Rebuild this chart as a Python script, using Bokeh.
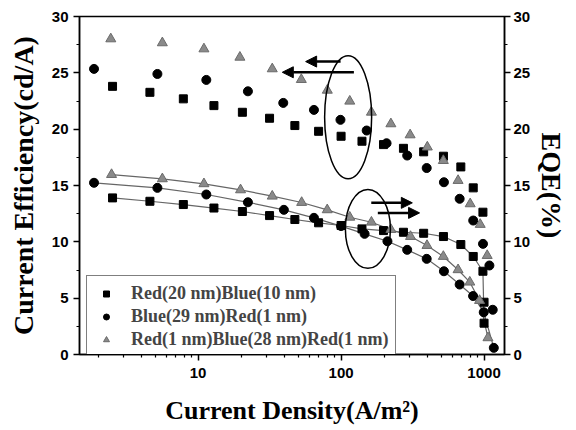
from bokeh.plotting import figure
from bokeh.models import (Range1d, LinearAxis, FixedTicker, SingleIntervalTicker,
                          PrintfTickFormatter, Legend, LegendItem, Arrow, NormalHead)
from bokeh.embed import file_html
from bokeh.resources import INLINE

# ---------------- data ----------------
# Red(20 nm)Blue(10 nm)  (squares)
j_sq = [2.52, 4.60, 7.88, 12.9, 20.4, 31.6, 47.5, 69.6, 100, 140, 198, 273, 378, 520, 688, 840, 982, 1000]
ce_sq = [23.8, 23.27, 22.69, 22.09, 21.5, 20.97, 20.32, 19.81, 19.37, 18.93, 18.63, 18.3, 17.99, 17.6, 16.65, 14.79, 12.63, 4.64]
eqe_sq = [13.9, 13.6, 13.31, 13.0, 12.69, 12.33, 11.98, 11.69, 11.45, 11.15, 11.0, 10.85, 10.76, 10.47, 9.76, 8.7, 7.39, 2.78]

# Blue(29 nm)Red(1 nm)  (circles)
j_ci_ce = [1.87, 5.19, 11.41, 22.3, 39.4, 64.6, 99, 151, 208, 290, 397, 524, 675, 840, 983, 1090, 1150]
ce_ci = [25.35, 24.9, 24.37, 23.36, 22.33, 21.71, 20.83, 19.88, 18.75, 17.66, 16.55, 15.29, 13.82, 11.89, 9.82, 7.9, 3.97]
j_ci_eqe = [1.87, 5.19, 11.41, 22.3, 39.8, 64.6, 100, 146, 211, 290, 397, 524, 675, 838, 995, 1170]
eqe_ci = [15.24, 14.79, 14.2, 13.51, 12.84, 12.13, 11.4, 10.71, 10.05, 9.29, 8.49, 7.39, 6.21, 5.19, 3.75, 0.59]

# Red(1 nm)Blue(28 nm)Red(1 nm)  (triangles)
j_tr_ce = [2.45, 5.62, 10.98, 19.6, 33.0, 52.7, 80.1, 115, 163, 223, 304, 401, 519, 658, 800, 940, 1052]
ce_tr = [28.01, 27.66, 27.12, 26.38, 25.35, 24.4, 23.45, 22.48, 21.5, 20.47, 19.49, 18.41, 17.21, 15.44, 13.37, 11.54, 8.78]
j_tr_eqe = [2.48, 5.62, 10.98, 19.8, 33, 53, 80, 115, 163, 223, 306, 399, 519, 658, 795, 930, 1065]
eqe_tr = [15.97, 15.59, 15.15, 14.61, 14.05, 13.49, 12.84, 12.18, 11.74, 11.09, 10.47, 9.67, 8.7, 7.52, 6.42, 4.79, 1.48]

labels = ["Red(20 nm)Blue(10 nm)", "Blue(29 nm)Red(1 nm)", "Red(1 nm)Blue(28 nm)Red(1 nm)"]
x_ticks = [10, 100, 1000]

# annotation positions (data space)
ell_upper = (112, 21.06)
ell_lower = (154, 11.15)
arrows_left = [(99.2, 56.5, 26.0), (122.9, 38.8, 25.05)]
arrows_right = [(162.6, 315, 13.46), (180.7, 354, 12.57)]

SERIF = "Liberation Serif"
SANS = "Liberation Sans"
TRI_FILL = "#8a8a8a"
TRI_LINE = "#6a6a6a"
LINE_C = "#666666"

p = figure(width=576, height=430, x_axis_type="log",
           x_range=Range1d(1.48, 1390), y_range=Range1d(0, 30),
           output_backend="svg", toolbar_location=None,
           min_border_left=79, min_border_right=72, min_border_top=16, min_border_bottom=76)
p.extra_y_ranges = {"eqe": Range1d(0, 30)}
p.xgrid.visible = False
p.ygrid.visible = False
p.outline_line_color = "black"
p.outline_line_width = 1.5
p.background_fill_color = "white"
p.border_fill_color = "white"

minor_x = [m * d for d in (1, 10, 100) for m in range(2, 10)]
p.xaxis.ticker = FixedTicker(ticks=x_ticks, minor_ticks=minor_x)
p.xaxis.formatter = PrintfTickFormatter(format="%d")
p.xaxis.axis_label = "Current Density(A/m\u00b2)"

p.yaxis.ticker = SingleIntervalTicker(interval=5, num_minor_ticks=2)
p.yaxis.axis_label = "Current Efficiency(cd/A)"

raxis = LinearAxis(y_range_name="eqe", axis_label="EQE(%)",
                   ticker=SingleIntervalTicker(interval=5, num_minor_ticks=2))
p.add_layout(raxis, "right")

for ax in [p.xaxis[0], p.yaxis[0], raxis]:
    ax.axis_line_width = 1.5
    ax.axis_line_color = "black"
    ax.major_tick_line_width = 1.5
    ax.minor_tick_line_width = 1.2
    ax.major_tick_out = 6
    ax.major_tick_in = 0
    ax.minor_tick_out = 3
    ax.minor_tick_in = 0
    ax.major_label_text_font = SANS
    ax.major_label_text_font_style = "bold"
    ax.major_label_text_font_size = "15px"
    ax.major_label_text_color = "black"
    ax.axis_label_text_font = SERIF
    ax.axis_label_text_font_style = "bold"
    ax.axis_label_text_color = "black"

p.xaxis.axis_label_text_font_size = "26px"
p.xaxis.major_label_standoff = 7
p.xaxis.axis_label_standoff = 15
p.yaxis.axis_label_text_font_size = "28px"
p.yaxis.axis_label_standoff = 10
raxis.axis_label_text_font_size = "28px"
raxis.major_label_standoff = 3
raxis.axis_label_standoff = 3

# fitted guide lines through EQE series
p.line(j_sq, eqe_sq, line_color=LINE_C, line_width=1.2, y_range_name="eqe")
p.line(j_ci_eqe, eqe_ci, line_color=LINE_C, line_width=1.2, y_range_name="eqe")
p.line(j_tr_eqe, eqe_tr, line_color=LINE_C, line_width=1.2, y_range_name="eqe")

# current efficiency (left axis)
p.scatter(j_sq, ce_sq, marker="square", size=8, fill_color="black", line_color="black")
p.scatter(j_ci_ce, ce_ci, marker="circle", size=9, fill_color="black", line_color="black")
p.scatter(j_tr_ce, ce_tr, marker="triangle", size=10, fill_color=TRI_FILL, line_color=TRI_LINE)

# EQE (right axis)
r_sq = p.scatter(j_sq, eqe_sq, marker="square", size=8, fill_color="black", line_color="black", y_range_name="eqe")
r_ci = p.scatter(j_ci_eqe, eqe_ci, marker="circle", size=9, fill_color="black", line_color="black", y_range_name="eqe")
r_tr = p.scatter(j_tr_eqe, eqe_tr, marker="triangle", size=10, fill_color=TRI_FILL, line_color=TRI_LINE, y_range_name="eqe")

# ellipses
p.ellipse(x=[ell_upper[0]], y=[ell_upper[1]], width=47, height=123,
          width_units="screen", height_units="screen",
          fill_color=None, line_color="black", line_width=1.5)
p.ellipse(x=[ell_lower[0]], y=[ell_lower[1]], width=45, height=79,
          width_units="screen", height_units="screen",
          fill_color=None, line_color="black", line_width=1.5)

# arrows
for xs, xe, yy in arrows_left + arrows_right:
    p.add_layout(Arrow(end=NormalHead(size=11, fill_color="black", line_color="black"),
                       x_start=xs, y_start=yy, x_end=xe, y_end=yy,
                       line_width=2.5, line_color="black"))

legend = Legend(items=[LegendItem(label=labels[0], renderers=[r_sq]),
                       LegendItem(label=labels[1], renderers=[r_ci]),
                       LegendItem(label=labels[2], renderers=[r_tr])],
                location=(7, -4))
legend.label_text_font = SERIF
legend.label_text_font_style = "bold"
legend.label_text_font_size = "18px"
legend.label_height = 21
legend.glyph_height = 15
legend.glyph_width = 24
legend.label_standoff = 13
legend.spacing = 2
legend.padding = 7
legend.margin = 0
legend.border_line_color = "black"
legend.border_line_width = 1
legend.background_fill_alpha = 1
p.add_layout(legend)

open("out.html", "w").write(file_html(p, INLINE))
